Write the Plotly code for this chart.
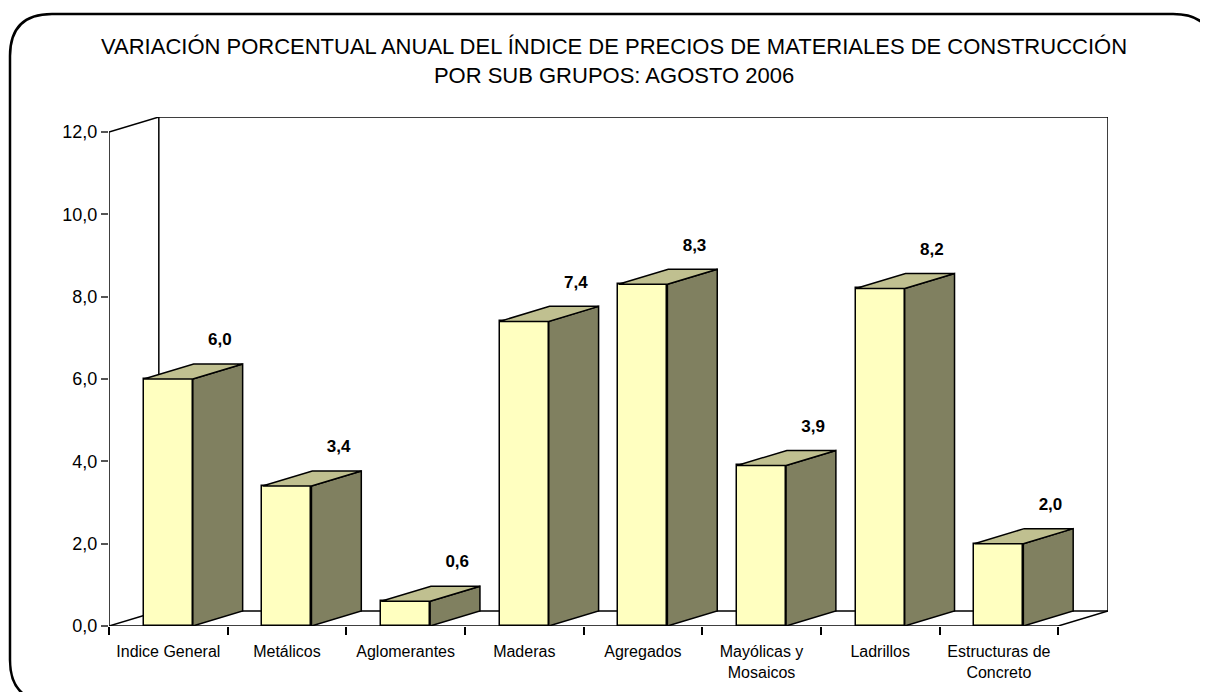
import plotly.graph_objects as go

categories = ["Indice General", "Metálicos", "Aglomerantes", "Maderas", "Agregados",
              "Mayólicas y<br>Mosaicos", "Ladrillos", "Estructuras de<br>Concreto"]
values = [6.0, 3.4, 0.6, 7.4, 8.3, 3.9, 8.2, 2.0]
y_ticks = [0, 2, 4, 6, 8, 10, 12]
y_tick_labels = ["0,0", "2,0", "4,0", "6,0", "8,0", "10,0", "12,0"]
title_text = ("VARIACIÓN PORCENTUAL ANUAL DEL ÍNDICE DE PRECIOS DE MATERIALES DE CONSTRUCCIÓN"
              "<br>POR SUB GRUPOS: AGOSTO 2006")

# styling (page has an 8px body margin; figure is sized/offset to compensate)
OFF = 8
PAGE_W, PAGE_H = 1208, 692
W, H = PAGE_W - OFF, PAGE_H - OFF
PL, PT, PR, PB = 109, 117, 1108, 626   # plot area in page pixels
ML, MT, MR, MB = PL - OFF, PT - OFF, PAGE_W - PR, PAGE_H - PB
BW = 0.413
DX, DY = 0.42, 0.365
FRONT = "#FFFFC0"
SIDE = "#808060"
TOP = "#C0C090"
FONT = "Liberation Sans, Arial, sans-serif"

xs = list(range(len(values)))

fig = go.Figure()

sx, sy = [], []
for x, v in zip(xs, values):
    r = x + BW / 2
    sx += [r, r + DX, r + DX, r, r, None]
    sy += [0, DY, v + DY, v, 0, None]
fig.add_trace(go.Scatter(x=sx, y=sy, mode="lines", fill="toself", fillcolor=SIDE,
                         line=dict(color="black", width=1.5), hoverinfo="skip"))
tx, ty = [], []
for x, v in zip(xs, values):
    l, r = x - BW / 2, x + BW / 2
    tx += [l, r, r + DX, l + DX, l, None]
    ty += [v, v, v + DY, v + DY, v, None]
fig.add_trace(go.Scatter(x=tx, y=ty, mode="lines", fill="toself", fillcolor=TOP,
                         line=dict(color="black", width=1.5), hoverinfo="skip"))
fig.add_trace(go.Bar(x=xs, y=values, width=BW,
                     marker=dict(color=FRONT, line=dict(color="black", width=1.5)),
                     hoverinfo="skip"))
fig.add_trace(go.Scatter(x=[x + 0.435 for x in xs], y=[v + DY + 0.56 for v in values],
                         mode="text", text=[f"{v:.1f}".replace(".", ",") for v in values],
                         textposition="middle center",
                         textfont=dict(family=FONT, size=17, color="black", weight="bold"),
                         hoverinfo="skip", cliponaxis=False))

n = len(values)
x0, x1 = -0.5, n - 0.5
line = dict(color="black", width=1.5)
shapes = [
    dict(type="rect", xref="x", yref="y", x0=x0 + DX, x1=x1 + DX, y0=DY, y1=12 + DY, line=line, layer="below"),
    dict(type="line", xref="x", yref="y", x0=x0, y0=12, x1=x0 + DX, y1=12 + DY, line=line, layer="below"),
    dict(type="line", xref="x", yref="y", x0=x0, y0=0, x1=x0 + DX, y1=DY, line=line, layer="below"),
    dict(type="line", xref="x", yref="y", x0=x1, y0=0, x1=x1 + DX, y1=DY, line=line, layer="below"),
    dict(type="line", xref="x", yref="y", x0=x0, y0=0, x1=x0, y1=12, line=line, layer="below"),
    dict(type="line", xref="x", yref="y", x0=x0, y0=0, x1=x1, y1=0, line=line, layer="below"),
]

pw, ph = PR - PL, PB - PT
def px(x):
    return (x - PL) / pw
def py(y):
    return (PB - y) / ph
L_, T_, R_, B_, r = 10, 14, 1215, 702, 42
pts = [
    ("M", [(L_ + r, T_)]), ("L", [(R_ - r, T_)]), ("Q", [(R_, T_), (R_, T_ + r)]),
    ("L", [(R_, B_ - r)]), ("Q", [(R_, B_), (R_ - r, B_)]), ("L", [(L_ + r, B_)]),
    ("Q", [(L_, B_), (L_, B_ - r)]), ("L", [(L_, T_ + r)]), ("Q", [(L_, T_), (L_ + r, T_)]),
]
path = " ".join(c + " " + " ".join(f"{px(a):.5f},{py(b):.5f}" for a, b in p) for c, p in pts) + " Z"
shapes.append(dict(type="path", xref="paper", yref="paper", path=path,
                   line=dict(color="black", width=2.5), layer="above"))

fig.update_layout(
    width=W, height=H,
    margin=dict(l=ML, r=MR, t=MT, b=MB, pad=0),
    paper_bgcolor="white", plot_bgcolor="white",
    showlegend=False,
    separators=",.",
    shapes=shapes,
    annotations=[dict(text=title_text, xref="paper", yref="paper",
                      x=px(614), y=py(61), xanchor="center", yanchor="middle",
                      showarrow=False, align="center",
                      font=dict(family=FONT, size=22, color="black"))],
    xaxis=dict(range=[x0, x1 + DX], showgrid=False, zeroline=False, showline=False,
               tickmode="array", tickvals=xs, ticktext=categories,
               ticks="outside", ticklen=11, tickcolor="rgba(0,0,0,0)",
               tickfont=dict(family=FONT, size=16, color="black"),
               minor=dict(tickmode="array", tickvals=[x0 + i for i in range(n + 1)],
                          ticks="outside", ticklen=8, tickwidth=1.5, tickcolor="black",
                          showgrid=False),
               fixedrange=True),
    yaxis=dict(range=[0, 12 + DY], showgrid=False, zeroline=False, showline=False,
               tickmode="array", tickvals=y_ticks, ticktext=y_tick_labels,
               ticks="outside", ticklen=7, tickwidth=1.5, tickcolor="#555555",
               tickfont=dict(family=FONT, size=18, color="black"),
               fixedrange=True),
    bargap=0,
)

fig.write_html("out.html")
